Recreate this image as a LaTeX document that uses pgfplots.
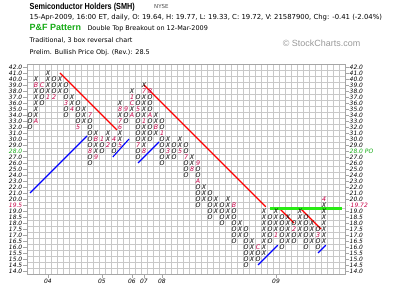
\documentclass[border=0pt]{standalone}
\usepackage{pgfplots}
\pgfplotsset{compat=1.18}
\usepackage{fontspec}
\setmainfont{DejaVu Sans}
\newfontfamily\arialf{Liberation Sans}
\definecolor{crim}{RGB}{200,0,70}
\definecolor{pfgreen}{RGB}{20,170,20}
\definecolor{brgreen}{RGB}{40,235,20}
\definecolor{gridc}{RGB}{200,200,200}
\pgfplotsset{
  pfxo/.style={scatter, only marks, mark=*, mark size=0pt, mark options={draw=none, fill=none}, point meta=explicit symbolic,
    scatter/@pre marker code/.code={\node[inner sep=0pt, text=black, font=\fontsize{6.3}{6.3}\selectfont\itshape] {\pgfplotspointmeta};},
    scatter/@post marker code/.code={}},
  pfmon/.style={scatter, only marks, mark=*, mark size=0pt, mark options={draw=none, fill=none}, point meta=explicit symbolic,
    scatter/@pre marker code/.code={\node[inner sep=0pt, text=crim, font=\fontsize{6.3}{6.3}\selectfont\itshape] {\pgfplotspointmeta};},
    scatter/@post marker code/.code={}},
}
\begin{document}
\begin{tikzpicture}
\useasboundingbox (0bp,0bp) rectangle (400bp,285bp);
\node[anchor=base west, inner sep=0pt] at (29.5bp,275.5bp) {\scalebox{0.83}[1]{\arialf\bfseries\fontsize{8.8}{9}\selectfont Semiconductor Holders (SMH)}};
\node[anchor=base west, inner sep=0pt, text=black!70] at (154bp,276bp) {\fontsize{5.5}{6}\selectfont NYSE};
\node[anchor=base west, inner sep=0pt] at (29.5bp,265bp) {\fontsize{6.9}{8}\selectfont 15-Apr-2009, 16:00 ET, daily, O: 19.64, H: 19.77, L: 19.33, C: 19.72, V: 21587900, Chg: -0.41 (-2.04\%)};
\node[anchor=base west, inner sep=0pt, text=pfgreen] at (29.5bp,254bp) {\arialf\bfseries\fontsize{9}{10}\selectfont P\&F Pattern};
\node[anchor=base west, inner sep=0pt] at (87.3bp,254.5bp) {\fontsize{6.5}{8}\selectfont Double Top Breakout on 12-Mar-2009};
\node[anchor=base west, inner sep=0pt] at (29.5bp,242bp) {\fontsize{6.5}{8}\selectfont Traditional, 3 box reversal chart};
\node[anchor=base west, inner sep=0pt] at (29.5bp,230.5bp) {\fontsize{6.5}{8}\selectfont Prelim. Bullish Price Obj. (Rev.): 28.5};
\node[anchor=base west, inner sep=0pt, text=gray!80] at (282.7bp,238bp) {\arialf\fontsize{9}{10}\selectfont \textcopyright\ StockCharts.com};
\begin{axis}[
  at={(27bp,11bp)}, anchor=south west,
  scale only axis, width=318bp, height=210bp,
  xmin=-0.5, xmax=52.5, ymin=-0.5, ymax=34.5,
  axis line style={gray!70},
  tick align=outside,
  major tick length=3.5bp,
  tick style={gray!70},
  xtick={3,12,17,19,22,41},
  xticklabels={04,05,06,07,08,09},
  xtick pos=bottom,
  ytick pos=left,
  ytick={0,...,34},
  yticklabels={14.0,14.5,15.0,15.5,16.0,16.5,17.0,17.5,18.0,18.5,19.0,\textcolor{crim}{19.5},20.0,21.0,22.0,23.0,24.0,25.0,26.0,27.0,\textcolor{pfgreen}{28.0},29.0,30.0,31.0,32.0,33.0,34.0,35.0,36.0,37.0,38.0,39.0,40.0,41.0,42.0},
  ticklabel style={font=\fontsize{6}{6}\selectfont\itshape, inner sep=1pt},
  minor xtick={-0.5,0.5,...,52.5},
  minor ytick={-0.5,0.5,...,34.5},
  minor tick length=0pt,
  minor grid style={gridc, line width=0.4bp},
  grid=minor,
  clip=false,
]
% trend lines
\addplot[red, line width=1.1bp] coordinates {(5,33) (14.5,23.5)};
\addplot[red, line width=1.1bp] coordinates {(19,31) (39.3,10.7)};
\addplot[red, line width=1.1bp] coordinates {(41.5,10.5) (44,8)};
\addplot[red, line width=1.1bp] coordinates {(45,10.5) (48.5,7)};
\addplot[blue, line width=1.1bp] coordinates {(0,13) (9.5,22.5)};
\addplot[blue, line width=1.1bp] coordinates {(13.8,19) (16.5,22)};
\addplot[blue, line width=1.1bp] coordinates {(18,18) (21.5,21.5)};
\addplot[blue, line width=1.1bp] coordinates {(38,1) (41.3,4.3)};
\addplot[blue, line width=1.1bp] coordinates {(48,3) (49.3,4.3)};
\addplot[brgreen, line width=3bp] coordinates {(40,10.45) (52,10.45)};
% X boxes
\addplot[pfxo] coordinates {
(1,26)[X] (1,27)[X] (1,28)[X] (1,29)[X] (1,30)[X] (1,32)[X]
(3,30)[X] (3,31)[X] (3,32)[X] (3,33)[X]
(5,30)[X] (5,31)[X] (5,32)[X]
(7,28)[X] (7,29)[X]
(9,25)[X] (9,26)[X] (9,27)[X]
(11,20)[X] (11,21)[X] (11,23)[X]
(13,22)[X] (13,23)[X]
(15,22)[X] (15,23)[X] (15,26)[X] (15,28)[X]
(17,27)[X] (17,30)[X]
(19,21)[X] (19,22)[X] (19,23)[X] (19,24)[X] (19,26)[X] (19,27)[X] (19,28)[X] (19,29)[X] (19,31)[X]
(21,23)[X] (21,25)[X] (21,26)[X]
(23,19)[X] (23,21)[X] (23,22)[X]
(25,21)[X] (25,22)[X]
(27,18)[X] (27,19)[X]
(29,12)[X] (29,13)[X] (29,14)[X]
(31,10)[X] (31,11)[X] (31,12)[X]
(33,9)[X] (33,10)[X] (33,11)[X] (33,12)[X]
(35,6)[X] (35,7)[X] (35,8)[X]
(37,2)[X] (37,3)[X] (37,4)[X] (37,5)[X]
(39,3)[X] (39,4)[X] (39,5)[X] (39,6)[X] (39,7)[X] (39,8)[X] (39,9)[X] (39,10)[X]
(41,7)[X] (41,8)[X] (41,9)[X] (41,10)[X]
(43,5)[X] (43,6)[X] (43,7)[X] (43,8)[X] (43,9)[X]
(45,6)[X] (45,7)[X] (45,8)[X] (45,9)[X] (45,10)[X]
(47,5)[X] (47,6)[X] (47,7)[X] (47,8)[X]
(49,5)[X] (49,6)[X] (49,7)[X] (49,8)[X] (49,9)[X] (49,10)[X] (49,11)[X]
};
% O boxes
\addplot[pfxo] coordinates {
(0,24)[O] (0,25)[O] (0,26)[O]
(2,28)[O] (2,29)[O] (2,30)[O]
(4,30)[O] (4,31)[O] (4,32)[O]
(6,26)[O] (6,27)[O] (6,29)[O] (6,30)[O] (6,31)[O]
(8,25)[O] (8,26)[O] (8,27)[O] (8,28)[O]
(10,18)[O] (10,19)[O] (10,21)[O] (10,22)[O] (10,23)[O] (10,24)[O] (10,25)[O]
(12,20)[O] (12,21)[O]
(14,20)[O] (14,21)[O]
(16,25)[O] (16,26)[O]
(18,19)[O] (18,20)[O] (18,22)[O] (18,23)[O] (18,24)[O] (18,25)[O] (18,26)[O] (18,28)[O] (18,29)[O]
(20,22)[O] (20,23)[O] (20,24)[O] (20,25)[O] (20,27)[O] (20,28)[O] (20,29)[O]
(22,18)[O] (22,19)[O] (22,20)[O] (22,21)[O] (22,22)[O] (22,24)[O] (22,25)[O]
(24,19)[O] (24,20)[O] (24,21)[O]
(26,16)[O] (26,17)[O] (26,18)[O] (26,20)[O] (26,21)[O]
(28,11)[O] (28,12)[O] (28,13)[O] (28,14)[O] (28,16)[O] (28,17)[O]
(30,9)[O] (30,10)[O] (30,11)[O] (30,12)[O] (30,13)[O]
(32,8)[O] (32,9)[O] (32,10)[O] (32,11)[O]
(34,5)[O] (34,6)[O] (34,7)[O] (34,8)[O] (34,9)[O] (34,10)[O]
(36,1)[O] (36,2)[O] (36,3)[O] (36,4)[O] (36,5)[O] (36,6)[O] (36,7)[O]
(38,2)[O] (38,3)[O]
(40,5)[O] (40,6)[O] (40,7)[O] (40,8)[O] (40,9)[O]
(42,4)[O] (42,5)[O] (42,6)[O] (42,7)[O] (42,8)[O] (42,9)[O]
(44,5)[O] (44,6)[O] (44,8)[O]
(46,4)[O] (46,5)[O] (46,6)[O] (46,7)[O] (46,8)[O] (46,9)[O]
(48,4)[O] (48,5)[O] (48,7)[O]
};
% month markers
\addplot[pfmon] coordinates {
(1,25)[A] (1,31)[B] (2,31)[C] (3,29)[1] (4,29)[2] (6,28)[3] (7,27)[4] (8,24)[5]
(10,26)[7] (10,20)[8] (11,19)[9] (11,22)[B] (12,22)[1] (13,21)[2] (14,22)[4]
(15,21)[5] (15,24)[6] (15,25)[7] (15,27)[8] (16,27)[9] (17,26)[A] (17,28)[C] (17,29)[1]
(18,27)[5] (18,21)[7] (19,20)[8] (19,25)[1] (19,30)[7] (20,30)[8] (20,26)[A] (21,24)[B]
(22,23)[1] (23,20)[3] (25,20)[5] (26,19)[7] (27,17)[8] (28,18)[9] (28,15)[A]
(34,11)[B] (38,4)[C] (41,6)[1] (44,7)[2] (48,6)[3] (49,12)[4]
};
\end{axis}
\begin{axis}[
  at={(27bp,11bp)}, anchor=south west,
  scale only axis, width=318bp, height=210bp,
  xmin=-0.5, xmax=52.5, ymin=-0.5, ymax=34.5,
  axis line style={draw=none},
  xtick=\empty,
  tick align=outside,
  major tick length=3.5bp,
  tick style={gray!70},
  ytick pos=right, yticklabel pos=right,
  ytick={0,1,2,3,4,5,6,7,8,9,10,12,13,14,15,16,17,18,19,20,21,22,23,24,25,26,27,28,29,30,31,32,33,34},
  yticklabels={14.0,14.5,15.0,15.5,16.0,16.5,17.0,17.5,18.0,18.5,19.0,20.0,21.0,22.0,23.0,24.0,25.0,26.0,27.0,\textcolor{pfgreen}{28.0 PO},29.0,30.0,31.0,32.0,33.0,34.0,35.0,36.0,37.0,38.0,39.0,40.0,41.0,42.0},
  extra y ticks={11},
  extra y tick labels={\textcolor{crim}{$\cdot\cdot$19.72}},
  extra y tick style={major tick length=0pt},
  ticklabel style={font=\fontsize{6}{6}\selectfont\itshape, inner sep=1pt},
]
\addplot[draw=none] coordinates {(0,0)};
\end{axis}
\end{tikzpicture}
\end{document}
